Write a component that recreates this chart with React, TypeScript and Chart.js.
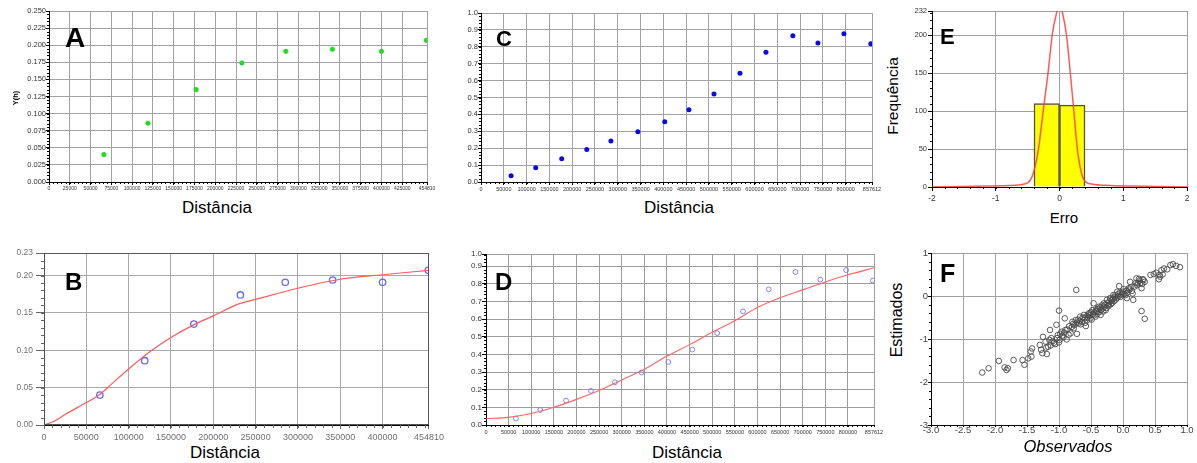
import React, { useEffect, useRef } from "react";
import { Chart, registerables } from "chart.js";

Chart.register(...registerables);

const FONT = '"Liberation Sans", Arial, Helvetica, sans-serif';

// ===== Panels A / B : experimental semivariogram (Distância x gamma) =====
const lagDist = [66000, 119000, 177000, 232000, 285000, 341000, 400000, 454000];
const semivariance = [0.04, 0.086, 0.135, 0.174, 0.191, 0.194, 0.191, 0.207];

const xTicksA = [0, 25000, 50000, 75000, 100000, 125000, 150000, 175000, 200000, 225000, 250000, 275000, 300000, 325000, 350000, 375000, 400000, 425000, 454810];
const xLabelsA = xTicksA.map((v) => String(v));
const yTicksA = [0, 0.025, 0.05, 0.075, 0.1, 0.125, 0.15, 0.175, 0.2, 0.225, 0.25];
const yLabelsA = ["0.000", "0.025", "0.050", "0.075", "0.100", "0.125", "0.150", "0.175", "0.200", "0.225", "0.250"];

// fitted model of panel B
const modelDistB = [0, 12000, 25000, 50000, 65000, 80000, 100000, 125000, 150000, 175000, 200000, 230000, 250000, 300000, 350000, 400000, 454810];
const modelGammaB = [0.0, 0.005, 0.014, 0.03, 0.04, 0.055, 0.075, 0.098, 0.117, 0.133, 0.146, 0.162, 0.168, 0.183, 0.195, 0.201, 0.207];
const xTicksB = [0, 50000, 100000, 150000, 200000, 250000, 300000, 350000, 400000, 454810];
const xLabelsB = xTicksB.map((v) => String(v));
const yTicksB = [0, 0.05, 0.1, 0.15, 0.2, 0.23];
const yLabelsB = ["0.00", "0.05", "0.10", "0.15", "0.20", "0.23"];

// ===== Panels C / D : second semivariogram =====
const lagDistC = [66000, 120000, 177000, 232000, 285000, 344000, 403000, 456000, 511000, 568000, 625000, 684000, 739000, 796000, 855000];
const semivarianceC = [0.037, 0.085, 0.138, 0.193, 0.242, 0.297, 0.357, 0.427, 0.52, 0.643, 0.768, 0.866, 0.823, 0.877, 0.818];
const xTicksC = [0, 50000, 100000, 150000, 200000, 250000, 300000, 350000, 400000, 450000, 500000, 550000, 600000, 650000, 700000, 750000, 800000, 857612];
const xLabelsC = xTicksC.map((v) => String(v));
const yTicksC = [0, 0.1, 0.2, 0.3, 0.4, 0.5, 0.6, 0.7, 0.8, 0.9, 1.0];
const yLabelsC = ["0.0", "0.1", "0.2", "0.3", "0.4", "0.5", "0.6", "0.7", "0.8", "0.9", "1.0"];

const modelDistD = [0, 50000, 100000, 150000, 200000, 250000, 300000, 350000, 400000, 450000, 500000, 550000, 600000, 650000, 700000, 750000, 800000, 857612];
const modelGammaD = [0.037, 0.043, 0.065, 0.1, 0.145, 0.195, 0.255, 0.315, 0.39, 0.455, 0.525, 0.59, 0.665, 0.72, 0.765, 0.81, 0.85, 0.89];
const yTicksD = [0, 0.1, 0.2, 0.3, 0.4, 0.5, 0.6, 0.7, 0.8, 0.9, 0.968];
const yLabelsD = ["0.0", "0.1", "0.2", "0.3", "0.4", "0.5", "0.6", "0.7", "0.8", "0.9", "1.0"];

// ===== Panel E : error histogram =====
const errBinCenters = [-0.2, 0.2];
const errBinCounts = [110, 108];
const errCurveX = [-2, -1.3, -0.8, -0.55, -0.45, -0.38, -0.33, -0.256, -0.18, -0.115, -0.05, 0, 0.05, 0.11, 0.17, 0.225, 0.28, 0.38, 0.5, 0.8, 1.3, 2];
const errCurveY = [0, 1, 2, 4, 10, 28, 50, 100, 150, 200, 228, 240, 228, 200, 150, 100, 50, 10, 4, 2, 1, 0];
const xTicksE = [-2, -1, 0, 1, 2];
const xLabelsE = ["-2", "-1", "0", "1", "2"];
const yTicksE = [0, 50, 100, 150, 200, 232];
const yLabelsE = ["0", "50", "100", "150", "200", "232"];

// ===== Panel F : observed vs estimated =====
const observedF = [
  -2.2, -2.1, -1.94, -1.85, -1.82, -1.8, -1.71, -1.57, -1.54, -1.48,
  -1.43, -1.44, -1.42, -1.3, -1.26, -1.19, -1.25, -1.21, -1.17, -1.14,
  -1.12, -1.08, -1.04, -1.02, -1.0, -0.99, -0.96, -0.93, -0.91, -0.9,
  -0.88, -0.84, -0.82, -0.79, -0.77, -0.74, -0.73, -0.72, -0.69, -0.67,
  -0.64, -0.61, -0.58, -0.56, -0.53, -0.51, -0.48, -0.46, -0.43, -0.41,
  -0.38, -0.35, -0.32, -0.3, -0.27, -0.25, -0.22, -0.2, -0.17, -0.15,
  -0.11, -0.09, -0.06, -0.04, -0.01, 0.01, 0.04, 0.06, 0.09, 0.11,
  0.15, 0.16, 0.18, 0.21, 0.23, 0.26, 0.29, 0.31, 0.34, 0.29,
  0.34, 0.43, 0.48, 0.52, 0.56, 0.57, 0.6, 0.64, 0.74, 0.78,
  0.83, 0.89,
  -0.95, -0.92, -0.87, -0.85, -0.8, -0.78, -0.76, -0.72, -0.7, -0.68,
  -0.66, -0.63, -0.6, -0.59, -0.57, -0.55, -0.54, -0.52, -0.5, -0.49,
  -0.47, -0.45, -0.44, -0.42, -0.4, -0.39, -0.37, -0.36, -0.34, -0.33,
  -0.31, -0.29, -0.28, -0.26, -0.24, -0.23, -0.21, -0.19, -0.18, -0.16,
  -0.14, -0.13, -0.12, -0.1, -0.08, -0.07, -0.05, -0.03, 0.0, 0.02,
  0.05, 0.07, 0.1, 0.12, 0.14, 0.2, 0.22, 0.25, 0.27, 0.3,
  0.32, -1.1, -1.06, -1.03, -1.0, -0.98, -1.15, -1.13, -1.2, -1.28,
  0.58, 0.62, 0.69,
];
const estimatedF = [
  -1.78, -1.68, -1.51, -1.66, -1.72, -1.68, -1.49, -1.49, -1.6, -1.45,
  -1.41, -1.29, -1.22, -1.14, -1.33, -1.35, -0.95, -1.06, -1.18, -0.79,
  -0.98, -1.09, -0.67, -0.91, -0.34, -1.02, -0.83, -0.96, -0.52, -0.79,
  -1.01, -0.7, -0.87, -0.6, -0.75, -0.56, 0.14, -0.88, -0.64, -0.48,
  -0.6, -0.44, -0.7, -0.56, -0.4, -0.52, -0.33, -0.17, -0.48, -0.36,
  -0.25, -0.44, -0.29, -0.17, -0.33, -0.09, -0.21, -0.05, -0.16, 0.02,
  -0.08, 0.1, 0.23, -0.02, 0.06, 0.16, 0.02, -0.05, 0.18, 0.33,
  0.06, -0.09, 0.22, 0.41, 0.29, 0.36, 0.18, 0.39, 0.33, -0.35,
  -0.53, 0.49, 0.51, 0.54, 0.39, 0.49, 0.6, 0.64, 0.72, 0.74,
  0.7, 0.67,
  -0.92, -0.85, -0.78, -0.9, -0.72, -0.65, -0.68, -0.62, -0.55, -0.58,
  -0.66, -0.5, -0.52, -0.62, -0.47, -0.5, -0.43, -0.45, -0.38, -0.55,
  -0.42, -0.45, -0.38, -0.31, -0.42, -0.3, -0.37, -0.27, -0.32, -0.22,
  -0.36, -0.25, -0.2, -0.28, -0.16, -0.24, -0.12, -0.19, -0.1, -0.06,
  -0.12, -0.03, 0.02, -0.04, 0.04, -0.01, 0.08, 0.03, 0.1, 0.05,
  0.12, 0.08, 0.15, 0.2, 0.12, 0.3, 0.25, 0.4, 0.3, 0.28,
  0.37, -1.05, -1.12, -0.98, -1.08, -0.88, -1.02, -1.15, -1.2, -1.25,
  0.45, 0.5, 0.62,
];
const xTicksF = [-3, -2.5, -2, -1.5, -1, -0.5, 0, 0.5, 1];
const xLabelsF = ["-3.0", "-2.5", "-2.0", "-1.5", "-1.0", "-0.5", "0.0", "0.5", "1.0"];
const yTicksF = [-3, -2, -1, 0, 1];
const yLabelsF = ["-3", "-2", "-1", "0", "1"];

// ===== helpers =====
const pts = (xs: number[], ys: number[]) => xs.map((x, i) => ({ x, y: ys[i] }));

type AxisOpt = {
  min: number; max: number; ticks: number[]; labels: string[];
  font: number; color: string; tickLen: number; pad: number;
  grid: string; tickColor: string; size: number;
};

function xAxis(o: AxisOpt) {
  return {
    type: "linear", position: "bottom", min: o.min, max: o.max, offset: false,
    afterBuildTicks: (s: any) => { s.ticks = o.ticks.map((v) => ({ value: v })); },
    afterFit: (s: any) => { s.height = o.size; },
    ticks: {
      autoSkip: false, maxRotation: 0, minRotation: 0, padding: o.pad, color: o.color,
      font: { family: FONT, size: o.font }, callback: (_v: any, i: number) => o.labels[i],
    },
    grid: { color: o.grid, lineWidth: 1, tickLength: o.tickLen, tickColor: o.tickColor, drawTicks: o.tickLen > 0, offset: false },
    border: { display: true, color: "#000", width: 1 },
  };
}
function yAxis(o: AxisOpt) {
  return {
    type: "linear", position: "left", min: o.min, max: o.max,
    afterBuildTicks: (s: any) => { s.ticks = o.ticks.map((v) => ({ value: v })); },
    afterFit: (s: any) => { s.width = o.size; },
    ticks: {
      autoSkip: false, padding: o.pad, color: o.color,
      font: { family: FONT, size: o.font }, callback: (_v: any, i: number) => o.labels[i],
    },
    grid: { color: o.grid, lineWidth: 1, tickLength: o.tickLen, tickColor: o.tickColor, drawTicks: o.tickLen > 0 },
    border: { display: true, color: "#000", width: 1 },
  };
}

const decoPlugin = {
  id: "deco",
  afterDraw(chart: any, _args: any, opts: any) {
    const { ctx, chartArea: a, scales } = chart;
    const xs = scales.x, ys = scales.y;
    ctx.save();
    ctx.lineWidth = 1;
    ctx.strokeStyle = opts.minorColor || "#000";
    if (opts.minorX) {
      const n = Math.floor((xs.max - xs.min) / opts.minorX + 1e-6);
      for (let i = 0; i <= n; i++) {
        const p = Math.round(xs.getPixelForValue(xs.min + i * opts.minorX)) + 0.5;
        ctx.beginPath(); ctx.moveTo(p, a.bottom); ctx.lineTo(p, a.bottom + opts.minorLen); ctx.stroke();
      }
    }
    if (opts.minorY) {
      const n = Math.floor((ys.max - ys.min) / opts.minorY + 1e-6);
      for (let i = 0; i <= n; i++) {
        const p = Math.round(ys.getPixelForValue(ys.min + i * opts.minorY)) + 0.5;
        ctx.beginPath(); ctx.moveTo(a.left, p); ctx.lineTo(a.left - opts.minorLen, p); ctx.stroke();
      }
    }
    if (opts.frame) {
      ctx.strokeStyle = opts.frame;
      ctx.strokeRect(Math.round(a.left) + 0.5, Math.round(a.top) + 0.5, Math.round(a.width) - 1, Math.round(a.height) - 1);
    }
    ctx.restore();
  },
};

function baseOptions(padT: number, padR: number, x: any, y: any, deco: any) {
  return {
    responsive: false, animation: false, events: [],
    layout: { padding: { left: 0, top: padT, right: padR, bottom: 0 } },
    plugins: { legend: { display: false }, tooltip: { enabled: false }, deco },
    scales: { x, y },
  };
}

// ===== chart builders =====
const buildA = () => ({
  type: "scatter",
  data: { datasets: [{ data: pts(lagDist, semivariance), pointRadius: 2.3, pointBackgroundColor: "#1fe01f", pointBorderColor: "#19c819", pointBorderWidth: 0.5 }] },
  options: baseOptions(8, 12,
    xAxis({ min: 0, max: 454810, ticks: xTicksA, labels: xLabelsA, font: 5, color: "#333", tickLen: 3, pad: 1, grid: "#a2a2a2", tickColor: "#000", size: 14 }),
    yAxis({ min: 0, max: 0.25, ticks: yTicksA, labels: yLabelsA, font: 7.5, color: "#333", tickLen: 3, pad: 0, grid: "#a2a2a2", tickColor: "#000", size: 49 }),
    { minorX: 5000, minorY: 0.005, minorLen: 2, minorColor: "#000" }),
  plugins: [decoPlugin],
});

const buildB = () => ({
  type: "scatter",
  data: {
    datasets: [
      { type: "line", data: pts(modelDistB, modelGammaB), borderColor: "#ff5a5a", borderWidth: 1.2, pointRadius: 0, cubicInterpolationMode: "monotone" },
      { type: "scatter", data: pts(lagDist, semivariance), pointRadius: 3.2, pointBorderColor: "#6666ff", pointBackgroundColor: "rgba(0,0,0,0)", pointBorderWidth: 1.3 },
    ],
  },
  options: baseOptions(8, 18,
    xAxis({ min: 0, max: 454810, ticks: xTicksB, labels: xLabelsB, font: 9, color: "#707070", tickLen: 4, pad: 3, grid: "#a8a8a8", tickColor: "#666", size: 18 }),
    yAxis({ min: 0, max: 0.23, ticks: yTicksB, labels: yLabelsB, font: 8.5, color: "#707070", tickLen: 8, pad: 3, grid: "#a8a8a8", tickColor: "#666", size: 44 }),
    { minorX: 10000, minorY: 0.01, minorLen: 3, minorColor: "#666", frame: "#555" }),
  plugins: [decoPlugin],
});

const buildC = () => ({
  type: "scatter",
  data: { datasets: [{ data: pts(lagDistC, semivarianceC), pointRadius: 2.5, pointBackgroundColor: "#0a0ae6", pointBorderColor: "#0a0ae6", pointBorderWidth: 0 }] },
  options: baseOptions(8, 12,
    xAxis({ min: 0, max: 857612, ticks: xTicksC, labels: xLabelsC, font: 5.5, color: "#333", tickLen: 3, pad: 1, grid: "#a2a2a2", tickColor: "#000", size: 14 }),
    yAxis({ min: 0, max: 1.0, ticks: yTicksC, labels: yLabelsC, font: 7.5, color: "#333", tickLen: 3, pad: 0, grid: "#a2a2a2", tickColor: "#000", size: 25 }),
    { minorX: 10000, minorY: 0.02, minorLen: 2, minorColor: "#000" }),
  plugins: [decoPlugin],
});

const buildD = () => ({
  type: "scatter",
  data: {
    datasets: [
      { type: "line", data: pts(modelDistD, modelGammaD), borderColor: "#ff6464", borderWidth: 1.1, pointRadius: 0, cubicInterpolationMode: "monotone" },
      { type: "scatter", data: pts(lagDistC, semivarianceC), pointRadius: 2.4, pointBorderColor: "#8080ff", pointBackgroundColor: "rgba(0,0,0,0)", pointBorderWidth: 1 },
    ],
  },
  options: baseOptions(8, 12,
    xAxis({ min: 0, max: 857612, ticks: xTicksC, labels: xLabelsC, font: 5.5, color: "#333", tickLen: 2, pad: 2, grid: "#9c9c9c", tickColor: "#000", size: 14 }),
    yAxis({ min: 0, max: 0.968, ticks: yTicksD, labels: yLabelsD, font: 8, color: "#333", tickLen: 4, pad: 0, grid: "#9c9c9c", tickColor: "#000", size: 30 }),
    { minorX: 10000, minorY: 0.02, minorLen: 2, minorColor: "#000" }),
  plugins: [decoPlugin],
});

const buildE = () => ({
  type: "bar",
  data: {
    datasets: [
      { type: "line", order: 0, data: pts(errCurveX, errCurveY), borderColor: "rgba(255,60,60,0.85)", borderWidth: 1.5, pointRadius: 0, cubicInterpolationMode: "monotone" },
      { type: "bar", order: 1, data: pts(errBinCenters, errBinCounts), backgroundColor: "#ffff00", borderColor: "#505050", borderWidth: 1.5, barPercentage: 1, categoryPercentage: 1 },
    ],
  },
  options: baseOptions(6, 8,
    xAxis({ min: -2, max: 2, ticks: xTicksE, labels: xLabelsE, font: 8.5, color: "#333", tickLen: 4, pad: 3, grid: "#a0a0a0", tickColor: "#000", size: 18 }),
    yAxis({ min: 0, max: 232, ticks: yTicksE, labels: yLabelsE, font: 7.5, color: "#333", tickLen: 4, pad: 1, grid: "#a0a0a0", tickColor: "#000", size: 26 }),
    { minorX: 0.2, minorY: 10, minorLen: 2, minorColor: "#000" }),
  plugins: [decoPlugin],
});

const buildF = () => ({
  type: "scatter",
  data: { datasets: [{ data: pts(observedF, estimatedF), pointRadius: 2.8, pointBorderColor: "#4a4a4a", pointBackgroundColor: "rgba(255,255,255,0)", pointBorderWidth: 0.9 }] },
  options: baseOptions(8, 9,
    xAxis({ min: -3, max: 1, ticks: xTicksF, labels: xLabelsF, font: 9.5, color: "#444", tickLen: 0, pad: 0, grid: "#a0a0a0", tickColor: "#000", size: 16 }),
    yAxis({ min: -3, max: 1, ticks: yTicksF, labels: yLabelsF, font: 9.5, color: "#444", tickLen: 3, pad: 0, grid: "#a0a0a0", tickColor: "#000", size: 25 }),
    { minorX: 0.1, minorY: 0.2, minorLen: 2, minorColor: "#000" }),
  plugins: [decoPlugin],
});

// ===== components =====
function ChartPanel({ box, build }: { box: [number, number, number, number]; build: () => any }) {
  const ref = useRef<HTMLCanvasElement>(null);
  useEffect(() => {
    const chart = new Chart(ref.current as HTMLCanvasElement, build() as any);
    return () => chart.destroy();
  }, []);
  const [l, t, w, h] = box;
  return <canvas ref={ref} width={w} height={h} style={{ position: "absolute", left: l, top: t, width: w, height: h }} />;
}

function HTitle({ x, base, size, text, italic = false }: { x: number; base: number; size: number; text: string; italic?: boolean }) {
  return (
    <div style={{ position: "absolute", left: x, top: base - 0.8465 * size, fontSize: size, lineHeight: `${size}px`, fontStyle: italic ? "italic" : "normal", whiteSpace: "nowrap", transform: "translateX(-50%)", color: "#000" }}>
      {text}
    </div>
  );
}
function VTitle({ cx, cy, size, text, bold = false }: { cx: number; cy: number; size: number; text: string; bold?: boolean }) {
  return (
    <div style={{ position: "absolute", left: cx, top: cy, fontSize: size, lineHeight: `${size}px`, fontWeight: bold ? 700 : 400, whiteSpace: "nowrap", transform: "translate(-50%,-50%) rotate(-90deg)", color: "#000" }}>
      {text}
    </div>
  );
}
function Letter({ x, base, size, text }: { x: number; base: number; size: number; text: string }) {
  return (
    <div style={{ position: "absolute", left: x, top: base - 0.8465 * size, fontSize: size, lineHeight: `${size}px`, fontWeight: 700, whiteSpace: "nowrap", color: "#000" }}>
      {text}
    </div>
  );
}

export default function App() {
  return (
    <div style={{ position: "absolute", left: 0, top: 0, width: 1197, height: 463, background: "#fff", fontFamily: FONT, overflow: "hidden" }}>
      <ChartPanel box={[0, 3, 439, 193]} build={buildA} />
      <ChartPanel box={[0, 245, 447, 198]} build={buildB} />
      <ChartPanel box={[456, 5, 428, 191]} build={buildC} />
      <ChartPanel box={[456, 246, 430, 193]} build={buildD} />
      <ChartPanel box={[906, 5, 289, 200]} build={buildE} />
      <ChartPanel box={[906, 245, 290, 196]} build={buildF} />

      <HTitle x={217} base={213} size={17} text="Distância" />
      <HTitle x={225} base={458} size={17} text="Distância" />
      <HTitle x={679} base={213} size={17} text="Distância" />
      <HTitle x={687} base={458} size={17} text="Distância" />
      <HTitle x={1064} base={223} size={15} text="Erro" />
      <HTitle x={1068} base={452} size={16.5} text="Observados" italic />

      <VTitle cx={16} cy={98} size={7.5} text="Y(h)" bold />
      <VTitle cx={893} cy={96} size={15.5} text="Frequência" />
      <VTitle cx={897} cy={320} size={16} text="Estimados" />

      <Letter x={65} base={48} size={28} text="A" />
      <Letter x={65} base={290} size={24} text="B" />
      <Letter x={496} base={47} size={22} text="C" />
      <Letter x={495} base={290} size={24} text="D" />
      <Letter x={940} base={45} size={22} text="E" />
      <Letter x={940} base={282} size={25} text="F" />
    </div>
  );
}
